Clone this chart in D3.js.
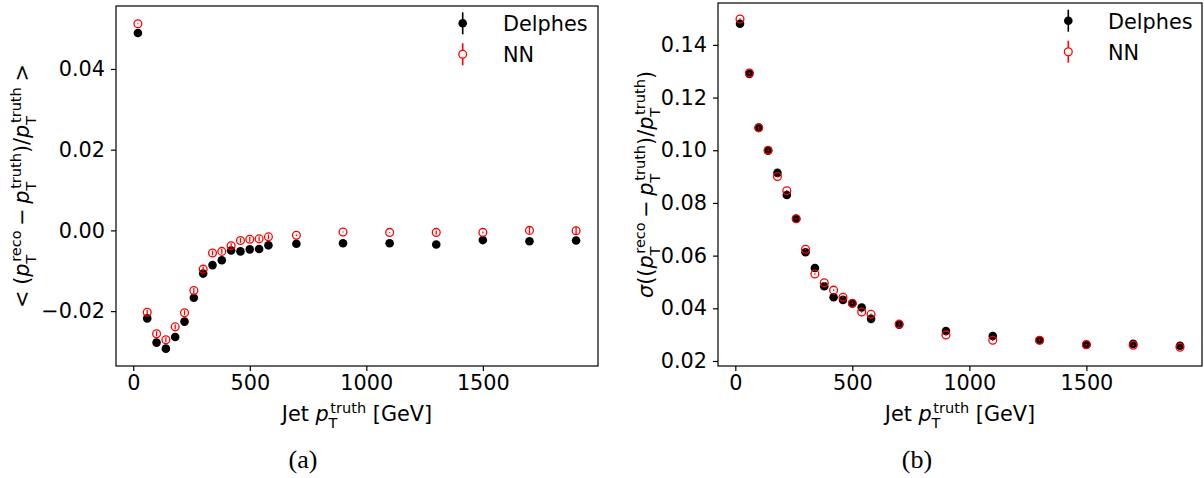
<!DOCTYPE html>
<html>
<head>
<meta charset="utf-8">
<script src="https://cdn.jsdelivr.net/npm/d3@7"></script>
<style>
  html, body { margin: 0; padding: 0; background: #fff; }
  svg { display: block; }
</style>
</head>
<body>
<svg id="chart" width="1204" height="478"></svg>
<script>
// ---------------- data ----------------
const ptTruth = [20, 60, 100, 140, 180, 220, 260, 300, 340, 380, 420, 460, 500, 540, 580, 700, 900, 1100, 1300, 1500, 1700, 1900];

const meanDelphes = [0.0489, -0.0218, -0.0278, -0.0293, -0.0264, -0.0226, -0.0167, -0.0107, -0.0086, -0.0074, -0.0050, -0.0052, -0.0047, -0.0046, -0.0037, -0.0033, -0.0032, -0.0032, -0.0035, -0.0024, -0.0027, -0.0025];
const meanNN      = [0.0512, -0.0203, -0.0256, -0.0271, -0.0239, -0.0204, -0.0149, -0.0096, -0.0056, -0.0052, -0.0038, -0.0025, -0.0022, -0.0021, -0.0016, -0.0012, -0.0004, -0.0005, -0.0005, -0.0005, 0.0000, -0.0001];
const meanErrDelphes = [0.0001, 0.0005, 0.0005, 0.0005, 0.0005, 0.0005, 0.0005, 0.0005, 0.0005, 0.0005, 0.0005, 0.0005, 0.0005, 0.0005, 0.0005, 0.0002, 0.0001, 0.0001, 0.0004, 0.0002, 0.0007, 0.0009];
const meanErrNN      = [0.0001, 0.0006, 0.0006, 0.0006, 0.0006, 0.0006, 0.0006, 0.0006, 0.0006, 0.0006, 0.0006, 0.0006, 0.0006, 0.0006, 0.0006, 0.0002, 0.0001, 0.0001, 0.0005, 0.0002, 0.0008, 0.0010];

const sigmaDelphes = [0.1480, 0.1290, 0.1086, 0.0998, 0.0914, 0.0830, 0.0740, 0.0613, 0.0553, 0.0484, 0.0442, 0.0432, 0.0418, 0.0403, 0.0360, 0.0338, 0.0314, 0.0295, 0.0279, 0.0262, 0.0265, 0.0258];
const sigmaNN      = [0.1498, 0.1293, 0.1085, 0.1000, 0.0900, 0.0846, 0.0740, 0.0624, 0.0530, 0.0497, 0.0469, 0.0442, 0.0419, 0.0386, 0.0377, 0.0340, 0.0299, 0.0279, 0.0279, 0.0262, 0.0260, 0.0252];
const sigmaErrDelphes = [0.0003, 0.0003, 0.0003, 0.0003, 0.0003, 0.0003, 0.0003, 0.0003, 0.0003, 0.0003, 0.0003, 0.0003, 0.0003, 0.0003, 0.0003, 0.0003, 0.0003, 0.0003, 0.0003, 0.0003, 0.0003, 0.0003];
const sigmaErrNN      = [0.0003, 0.0003, 0.0003, 0.0003, 0.0003, 0.0003, 0.0003, 0.0003, 0.0003, 0.0003, 0.0003, 0.0003, 0.0003, 0.0003, 0.0003, 0.0003, 0.0003, 0.0003, 0.0003, 0.0003, 0.0003, 0.0003];

const xTicks = [0, 500, 1000, 1500];
const meanTicks = [-0.02, 0.00, 0.02, 0.04];
const sigmaTicks = [0.02, 0.04, 0.06, 0.08, 0.10, 0.12, 0.14];
const seriesNames = ["Delphes", "NN"];
const captions = ["(a)", "(b)"];

// ---------------- layout ----------------
const FS = 20.8;
const SANS = '"DejaVu Sans"';
const SERIF = '"Liberation Serif"';
const svg = d3.select("#chart");

function drawMath(parent, pieces, size) {
  const g = parent.append("g");
  let x = 0;
  const mk = (xx, yy, sz, txt, it) => g.append("text").attr("x", xx).attr("y", yy)
      .style("font-family", SANS).style("font-size", sz + "px")
      .style("font-style", it ? "italic" : "normal").attr("fill", "#000").text(txt);
  pieces.forEach(p => {
    if (p.gap) { x += p.gap * size; return; }
    const t = mk(x, 0, size, p.t, p.it);
    x += t.node().getComputedTextLength();
    if (p.sub || p.sup) {
      let w = 0;
      const xs = x + (p.it ? 0.02 * size : 0);
      if (p.sup) {
        const s = mk(xs + 0.06 * size, -0.39 * size, 0.7 * size, p.sup, false);
        w = Math.max(w, s.node().getComputedTextLength() + 0.06 * size);
      }
      if (p.sub) {
        const s = mk(xs - 0.03 * size, 0.32 * size, 0.7 * size, p.sub, false);
        w = Math.max(w, s.node().getComputedTextLength() - 0.03 * size);
      }
      x = xs + w;
    }
  });
  return { g, width: x };
}

const pT = (sup) => ({ t: "p", it: true, sub: "T", sup: sup });
const xLabelPieces = [{ t: "Jet" }, { gap: 0.318 }, pT("truth"), { gap: 0.318 }, { t: "[GeV]" }];
const meanLabelPieces = [{ t: "<" }, { gap: 0.28 }, { t: "(" }, pT("reco"), { gap: 0.22 }, { t: "−" }, { gap: 0.22 }, pT("truth"), { t: ")/" }, pT("truth"), { gap: 0.28 }, { t: ">" }];
const sigmaLabelPieces = [{ t: "σ", it: true }, { t: "((" }, pT("reco"), { gap: 0.22 }, { t: "−" }, { gap: 0.22 }, pT("truth"), { t: ")/" }, pT("truth"), { t: ")" }];

const panels = [
  { x0: 116, x1: 598, y0: 6, y1: 366, xDom: [-74, 1994], yDom: [-0.0336, 0.0556],
    yTicks: meanTicks, d: meanDelphes, n: meanNN, de: meanErrDelphes, ne: meanErrNN,
    yLabel: meanLabelPieces, yLabelX: 29, legX: 462.7, legY: 23.3, textX: 503, caption: captions[0], capX: 303 },
  { x0: 718, x1: 1202, y0: 3, y1: 366, xDom: [-74, 1994], yDom: [0.0181, 0.1559],
    yTicks: sigmaTicks, d: sigmaDelphes, n: sigmaNN, de: sigmaErrDelphes, ne: sigmaErrNN,
    yLabel: sigmaLabelPieces, yLabelX: 653, legX: 1068.3, legY: 20.7, textX: 1108, caption: captions[1], capX: 917 }
];

panels.forEach(P => {
  const x = d3.scaleLinear().domain(P.xDom).range([P.x0, P.x1]);
  const y = d3.scaleLinear().domain(P.yDom).range([P.y1, P.y0]);
  const g = svg.append("g");

  // axes
  const xa = g.append("g").attr("transform", `translate(0,${P.y1})`)
    .call(d3.axisBottom(x).tickValues(xTicks).tickSize(5).tickPadding(4).tickFormat(d3.format("d")));
  const ya = g.append("g").attr("transform", `translate(${P.x0},0)`)
    .call(d3.axisLeft(y).tickValues(P.yTicks).tickSize(5).tickPadding(6).tickFormat(d3.format(".2f")));
  [xa, ya].forEach(a => {
    a.attr("font-family", null).attr("font-size", null);
    a.select(".domain").remove();
    a.selectAll(".tick line").attr("stroke", "#000").attr("stroke-width", 1.2);
    a.selectAll(".tick text").style("font-size", FS + "px").style("font-family", SANS).attr("fill", "#000");
  });
  g.append("rect").attr("x", P.x0).attr("y", P.y0).attr("width", P.x1 - P.x0).attr("height", P.y1 - P.y0)
    .attr("fill", "none").attr("stroke", "#000").attr("stroke-width", 1.2);

  // data
  const idx = d3.range(ptTruth.length);
  const drawSeries = (vals, errs, color, filled) => {
    const s = g.append("g");
    s.selectAll("line").data(idx).join("line")
      .attr("x1", i => x(ptTruth[i])).attr("x2", i => x(ptTruth[i]))
      .attr("y1", i => y(vals[i] - errs[i])).attr("y2", i => y(vals[i] + errs[i]))
      .attr("stroke", color).attr("stroke-width", 1.3);
    s.selectAll("circle").data(idx).join("circle")
      .attr("cx", i => x(ptTruth[i])).attr("cy", i => y(vals[i]))
      .attr("r", filled ? 4.3 : 3.9)
      .attr("fill", filled ? color : "none")
      .attr("stroke", filled ? "none" : color).attr("stroke-width", 1.3);
  };
  drawSeries(P.d, P.de, "#000", true);
  drawSeries(P.n, P.ne, "#ff0000", false);

  // legend
  const colors = ["#000", "#ff0000"];
  seriesNames.forEach((name, k) => {
    const cy = P.legY + k * 31;
    g.append("line").attr("x1", P.legX).attr("x2", P.legX).attr("y1", cy - 11).attr("y2", cy + 11)
      .attr("stroke", colors[k]).attr("stroke-width", 1.6);
    g.append("circle").attr("cx", P.legX).attr("cy", cy).attr("r", k === 0 ? 4.3 : 3.9)
      .attr("fill", k === 0 ? colors[k] : "#fff").attr("stroke", k === 0 ? "none" : colors[k]).attr("stroke-width", 1.3);
    g.append("text").attr("x", P.textX).attr("y", cy + 8)
      .style("font-family", SANS).style("font-size", FS + "px").attr("fill", "#000").text(name);
  });

  // x label
  const xl = drawMath(svg, xLabelPieces, FS);
  xl.g.attr("transform", `translate(${(P.x0 + P.x1) / 2 - xl.width / 2},421)`);

  // y label
  const yl = drawMath(svg, P.yLabel, FS);
  yl.g.attr("transform", `translate(${P.yLabelX},${(P.y0 + P.y1) / 2}) rotate(-90) translate(${-yl.width / 2},0)`);

  // caption
  svg.append("text").attr("x", P.capX).attr("y", 468).attr("text-anchor", "middle")
    .style("font-family", SERIF).style("font-size", "26px").attr("fill", "#000").text(P.caption);
});
</script>
</body>
</html>
